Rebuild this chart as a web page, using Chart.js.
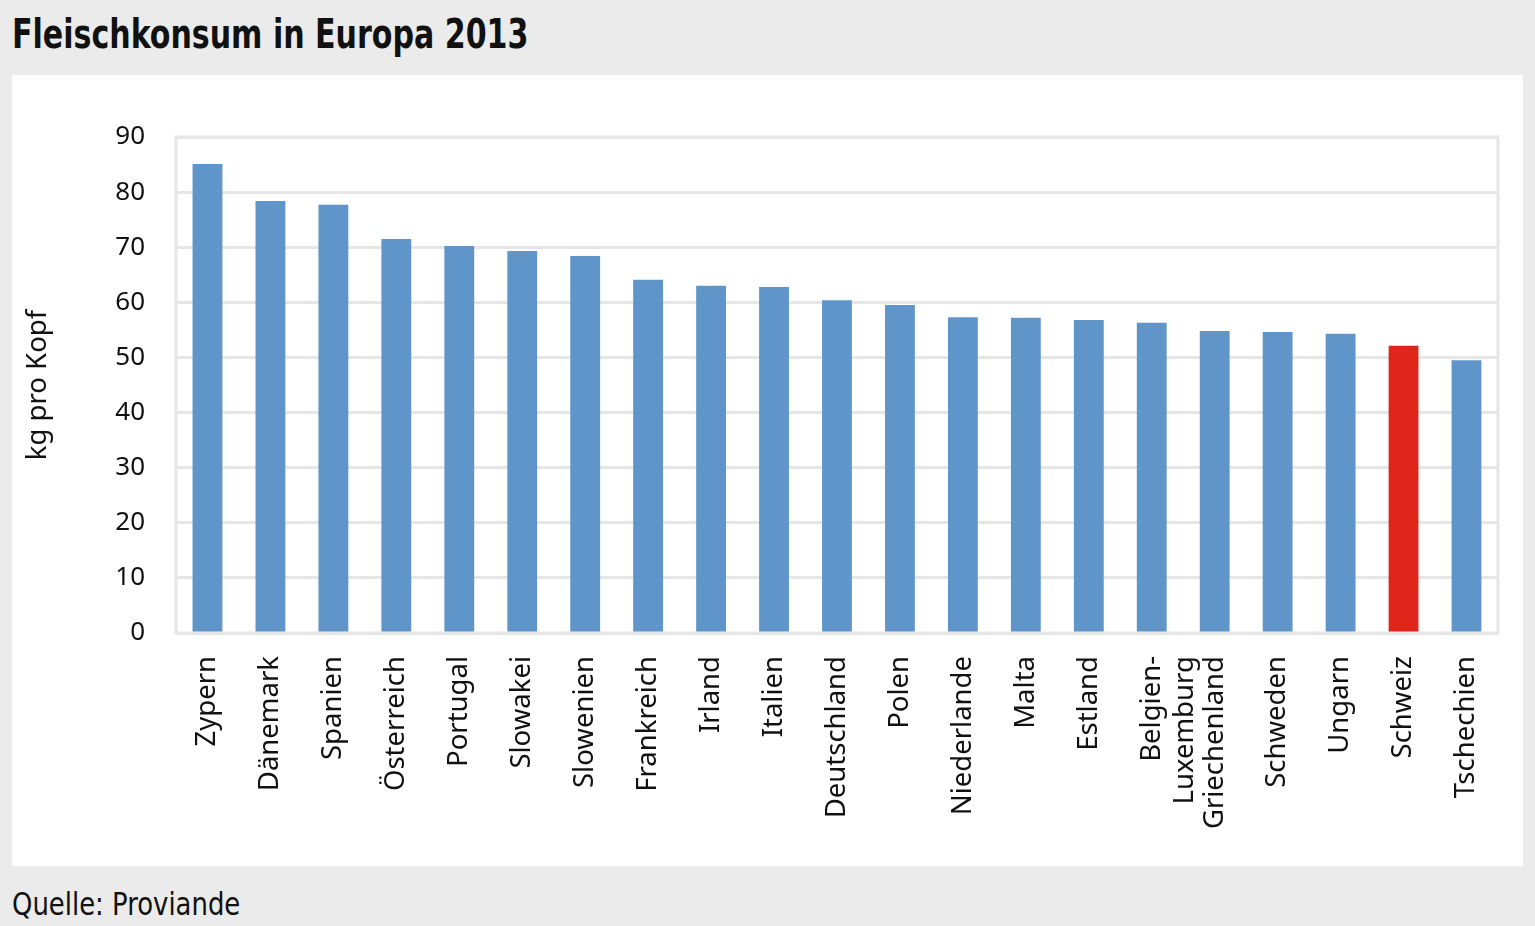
<!DOCTYPE html>
<html><head><meta charset="utf-8">
<script src="https://cdn.jsdelivr.net/npm/chart.js@4"></script>
<style>
html,body{margin:0;padding:0;background:#ebebeb;width:1535px;height:926px;overflow:hidden;}
#title{position:absolute;left:12px;top:10px;font-family:"Liberation Sans Narrow","DejaVu Sans Condensed",sans-serif;font-weight:bold;font-size:41px;color:#111;white-space:nowrap;transform:scaleX(0.815);transform-origin:0 0;}
#panel{position:absolute;left:12px;top:75px;width:1511px;height:791px;background:#fff;}
#src{position:absolute;left:12px;top:885px;font-family:"Liberation Sans Narrow","DejaVu Sans Condensed",sans-serif;font-size:32px;color:#111;white-space:nowrap;transform:scaleX(0.9);transform-origin:0 0;}
</style></head>
<body>
<div id="title">Fleischkonsum in Europa 2013</div>
<div id="panel"><canvas id="c"></canvas></div>
<div id="src">Quelle: Proviande</div>
<script>
const categories = ["Zypern","Dänemark","Spanien","Österreich","Portugal","Slowakei","Slowenien","Frankreich","Irland","Italien","Deutschland","Polen","Niederlande","Malta","Estland",["Belgien-","Luxemburg"],"Griechenland","Schweden","Ungarn","Schweiz","Tschechien"];
const values = [85.1,78.4,77.7,71.5,70.2,69.3,68.4,64.1,63.0,62.8,60.4,59.5,57.3,57.2,56.8,56.3,54.8,54.6,54.3,52.1,49.5];
const highlight = "Schweiz";
const yTicks = [0,10,20,30,40,50,60,70,80,90];
const yTitle = "kg pro Kopf";

const blue = "#6095c9", red = "#e0261a";
const colors = categories.map(c => c === highlight ? red : blue);

const frame = {
  id:'frame',
  beforeDatasetsDraw(chart){
    const a = chart.chartArea, ctx = chart.ctx;
    ctx.save();
    ctx.strokeStyle = '#e6e6e6';
    ctx.lineWidth = 3;
    ctx.strokeRect(a.left, a.top, a.right - a.left, a.bottom - a.top);
    ctx.restore();
  }
};

const fam = '"Noto Sans", "Open Sans", sans-serif';
new Chart(document.getElementById('c'), {
  type:'bar',
  data:{labels:categories, datasets:[{data:values, backgroundColor:colors, borderWidth:0, barPercentage:0.6, categoryPercentage:0.79}]},
  options:{
    responsive:true, maintainAspectRatio:false, animation:false,
    layout:{padding:{top:62,right:21,left:0,bottom:0}},
    plugins:{legend:{display:false}, tooltip:{enabled:false}},
    scales:{
      x:{
        grid:{display:false, drawTicks:false},
        border:{display:false},
        ticks:{color:'#111', font:{family:fam, size:27.5}, minRotation:90, maxRotation:90, padding:23, autoSkip:false},
        afterFit(s){ s.height = 233; }
      },
      y:{
        min:0, max:90,
        afterBuildTicks(s){ s.ticks = yTicks.map(v => ({value:v})); },
        grid:{color:'#e6e6e6', lineWidth:3, drawTicks:false},
        border:{display:false},
        ticks:{color:'#111', font:{family:fam, size:26}, padding:31},
        title:{display:true, text:yTitle, color:'#111', font:{family:fam, size:27.5}, padding:{top:10,bottom:0}},
        afterFit(s){ s.width = 164; }
      }
    }
  },
  plugins:[frame]
});
</script>
</body></html>
